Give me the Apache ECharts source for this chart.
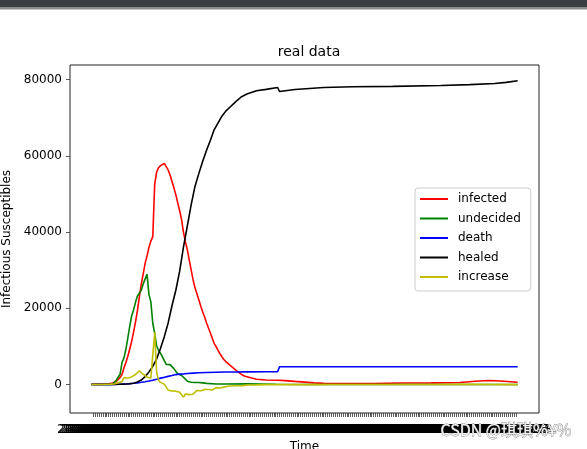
<!DOCTYPE html>
<html>
<head>
<meta charset="utf-8">
<script src="https://cdn.jsdelivr.net/npm/echarts@6/dist/echarts.min.js"></script>
<style>
  html, body { margin: 0; padding: 0; background: #fff; }
  #chart { width: 587px; height: 449px; }
</style>
</head>
<body>
<div id="chart"></div>
<script>
// day 0 is 2020-01-10, one tick per day up to 2020-08-19
const startDay = Date.UTC(2020, 0, 10);
const dayCount = 223;
const xDates = [];
for (let i = 0; i < dayCount; i++) {
    xDates.push(new Date(startDay + i * 86400000).toISOString().slice(0, 10));
}
const yTicks = [0, 20000, 40000, 60000, 80000];
const legendNames = ['infected', 'undecided', 'death', 'healed', 'increase'];

// [MM-DD, value]
const infected = [
    ['01-10', 41], ['01-15', 36], ['01-17', 45], ['01-18', 104], ['01-19', 180], ['01-20', 260],
    ['01-21', 403], ['01-22', 526], ['01-23', 771], ['01-24', 1208], ['01-25', 1870], ['01-26', 2613],
    ['01-27', 4349], ['01-28', 5739], ['01-29', 7417], ['01-30', 9308], ['01-31', 11289],
    ['02-01', 13748], ['02-02', 16369], ['02-03', 19381], ['02-04', 22942], ['02-05', 26302],
    ['02-06', 28985], ['02-07', 31774], ['02-08', 33738], ['02-09', 35982], ['02-10', 37626],
    ['02-11', 38800], ['02-12', 52526], ['02-13', 55748], ['02-14', 56873], ['02-15', 57416],
    ['02-16', 57934], ['02-17', 58016], ['02-18', 57805], ['02-19', 56303], ['02-20', 54965],
    ['02-21', 53284], ['02-22', 51606], ['02-23', 49824], ['02-24', 47672], ['02-25', 45604],
    ['02-26', 43258], ['02-27', 39919], ['02-28', 37414], ['02-29', 35329], ['03-01', 32652],
    ['03-02', 30004], ['03-03', 27433], ['03-04', 25352], ['03-05', 23784], ['03-06', 22177],
    ['03-07', 20533], ['03-08', 19016], ['03-09', 17721], ['03-10', 16145], ['03-11', 14831],
    ['03-12', 13526], ['03-13', 12094], ['03-14', 10734], ['03-15', 9898], ['03-16', 8976],
    ['03-17', 8056], ['03-18', 7263], ['03-19', 6569], ['03-20', 6013], ['03-21', 5549],
    ['03-22', 5120], ['03-23', 4735], ['03-24', 4287], ['03-25', 3947], ['03-26', 3460],
    ['03-27', 3128], ['03-28', 2691], ['03-29', 2396], ['03-30', 2161], ['03-31', 2004],
    ['04-05', 1376], ['04-10', 1156], ['04-16', 1107], ['04-17', 1050], ['04-20', 1000],
    ['04-25', 800], ['04-30', 620], ['05-05', 420], ['05-10', 280], ['05-15', 230], ['05-25', 240],
    ['06-05', 260], ['06-20', 380], ['07-05', 420], ['07-20', 500], ['07-28', 850], ['08-04', 1050],
    ['08-10', 900], ['08-19', 600]
];

const undecided = [
    ['01-10', 0], ['01-19', 0], ['01-20', 54], ['01-21', 37], ['01-22', 393], ['01-23', 1072],
    ['01-24', 1965], ['01-25', 2684], ['01-26', 5794], ['01-27', 6973], ['01-28', 9239],
    ['01-29', 12167], ['01-30', 15238], ['01-31', 17988], ['02-01', 19544], ['02-02', 21558],
    ['02-03', 23214], ['02-04', 23260], ['02-05', 24702], ['02-06', 26359], ['02-07', 27657],
    ['02-08', 28942], ['02-09', 23589], ['02-10', 21675], ['02-11', 16067], ['02-12', 13435],
    ['02-13', 10109], ['02-14', 8969], ['02-15', 8228], ['02-16', 7264], ['02-17', 6242],
    ['02-18', 5248], ['02-19', 4922], ['02-20', 5206], ['02-21', 5365], ['02-22', 4148],
    ['02-23', 3434], ['02-24', 2824], ['02-25', 2491], ['02-26', 2358], ['02-27', 2308],
    ['02-28', 1418], ['02-29', 851], ['03-01', 715], ['03-02', 587], ['03-03', 520], ['03-04', 522],
    ['03-05', 482], ['03-06', 502], ['03-07', 458], ['03-08', 421], ['03-09', 349], ['03-10', 285],
    ['03-15', 134], ['03-20', 104], ['03-31', 172], ['04-15', 60], ['05-01', 10], ['06-01', 3],
    ['07-01', 5], ['08-19', 5]
];

const death = [
    ['01-10', 1], ['01-17', 2], ['01-19', 3], ['01-20', 6], ['01-22', 17], ['01-24', 41],
    ['01-26', 80], ['01-28', 132], ['01-30', 213], ['02-01', 304], ['02-03', 425], ['02-05', 563],
    ['02-07', 722], ['02-09', 908], ['02-11', 1113], ['02-13', 1380], ['02-15', 1665],
    ['02-17', 1868], ['02-19', 2118], ['02-21', 2345], ['02-23', 2592], ['02-25', 2715],
    ['02-27', 2788], ['02-29', 2870], ['03-03', 2981], ['03-06', 3070], ['03-10', 3158],
    ['03-15', 3213], ['03-20', 3255], ['03-25', 3287], ['03-31', 3312], ['04-10', 3336],
    ['04-16', 3342], ['04-17', 4632], ['05-01', 4633], ['08-19', 4634]
];

const healed = [
    ['01-10', 0], ['01-20', 25], ['01-22', 28], ['01-24', 38], ['01-26', 51], ['01-28', 103],
    ['01-30', 171], ['02-01', 328], ['02-03', 632], ['02-05', 1153], ['02-07', 2050],
    ['02-09', 3281], ['02-11', 4740], ['02-13', 6723], ['02-15', 9419], ['02-17', 12552],
    ['02-19', 16155], ['02-21', 20659], ['02-23', 24734], ['02-25', 29745], ['02-27', 36117],
    ['02-29', 41625], ['03-02', 47204], ['03-04', 52045], ['03-06', 55404], ['03-08', 58600],
    ['03-10', 61475], ['03-12', 64111], ['03-14', 66911], ['03-16', 68679], ['03-18', 70420],
    ['03-20', 71740], ['03-22', 72703], ['03-24', 73650], ['03-26', 74588], ['03-28', 75448],
    ['03-31', 76238], ['04-05', 77078], ['04-10', 77455], ['04-16', 77950], ['04-17', 76900],
    ['04-25', 77400], ['05-10', 77950], ['05-25', 78150], ['06-15', 78250], ['07-10', 78450],
    ['07-25', 78700], ['08-07', 79000], ['08-13', 79300], ['08-19', 79700]
];

const increase = [
    ['01-10', 0], ['01-16', 0], ['01-17', 9], ['01-18', 59], ['01-19', 76], ['01-20', 80],
    ['01-21', 143], ['01-22', 123], ['01-23', 245], ['01-24', 437], ['01-25', 662], ['01-26', 743],
    ['01-27', 1736], ['01-28', 1390], ['01-29', 1678], ['01-30', 1891], ['01-31', 1981],
    ['02-01', 2459], ['02-02', 2621], ['02-03', 3012], ['02-04', 3561], ['02-05', 3360],
    ['02-06', 2683], ['02-07', 2789], ['02-08', 1964], ['02-09', 2244], ['02-10', 1644],
    ['02-11', 1174], ['02-12', 13726], ['02-13', 3222], ['02-14', 1125], ['02-15', 543],
    ['02-16', 518], ['02-17', 82], ['02-18', -211], ['02-19', -1502], ['02-20', -1338],
    ['02-21', -1681], ['02-22', -1678], ['02-23', -1782], ['02-24', -2152], ['02-25', -2068],
    ['02-26', -2346], ['02-27', -3339], ['02-28', -2505], ['02-29', -2085], ['03-01', -2677],
    ['03-02', -2648], ['03-03', -2571], ['03-04', -2081], ['03-05', -1568], ['03-06', -1607],
    ['03-07', -1644], ['03-08', -1517], ['03-09', -1295], ['03-10', -1576], ['03-11', -1314],
    ['03-12', -1305], ['03-13', -1432], ['03-14', -1360], ['03-15', -836], ['03-16', -922],
    ['03-17', -920], ['03-18', -793], ['03-19', -694], ['03-20', -556], ['03-21', -464],
    ['03-22', -429], ['03-23', -385], ['03-24', -448], ['03-25', -340], ['03-26', -487],
    ['03-27', -332], ['03-28', -437], ['03-29', -295], ['03-30', -235], ['03-31', -157],
    ['04-05', -120], ['04-10', -30], ['04-16', -10], ['04-17', -57], ['04-25', -40], ['05-05', -30],
    ['05-15', -5], ['06-01', 0], ['06-20', 10], ['07-10', 0], ['07-25', 40], ['08-05', 10],
    ['08-19', -30]
];

const colors = ['#ff0000', '#008000', '#0000ff', '#000000', '#bfbf00'];

function dayIndex(md) {
    const [m, d] = md.split('-').map(Number);
    return Math.round((Date.UTC(2020, m - 1, d) - startDay) / 86400000);
}

function toPoints(arr) {
    return arr.map(([md, v]) => [dayIndex(md), v]);
}

const allDays = xDates.map((_, i) => i);
const font = 'DejaVu Sans';

const chart = echarts.init(document.getElementById('chart'), null, { renderer: 'canvas' });

chart.setOption({
    animation: false,
    backgroundColor: '#fff',
    color: colors,
    title: {
        text: 'real data',
        left: 304,
        top: 40,
        textAlign: 'center',
        textStyle: { fontFamily: font, fontSize: 14, fontWeight: 'normal', color: '#000' }
    },
    grid: {
        left: 70, right: 48, top: 65, bottom: 36,
        show: true, borderColor: '#222', borderWidth: 1,
        outerBoundsMode: 'none'
    },
    legend: {
        orient: 'vertical',
        left: 415,
        top: 188,
        data: legendNames,
        icon: 'rect',
        itemWidth: 28,
        itemHeight: 2,
        itemGap: 5.5,
        padding: [4, 10, 7, 5],
        backgroundColor: 'rgba(255,255,255,0.85)',
        borderColor: '#cccccc',
        borderWidth: 1,
        borderRadius: 3,
        textStyle: { fontFamily: font, fontSize: 12, color: '#000', lineHeight: 14, padding: [0, 0, 0, 5] }
    },
    xAxis: {
        type: 'value',
        min: -11.1,
        max: 233.1,
        name: 'Time',
        nameLocation: 'middle',
        nameGap: 28,
        nameTextStyle: { fontFamily: font, fontSize: 12, color: '#000' },
        axisLine: { show: false, onZero: false },
        splitLine: { show: false },
        axisTick: {
            show: true, length: 4, inside: false,
            lineStyle: { color: '#333', width: 0.8 },
            customValues: allDays
        },
        axisLabel: {
            show: true,
            margin: 10,
            fontFamily: font,
            fontSize: 12.5,
            color: '#000',
            hideOverlap: false,
            customValues: allDays,
            formatter: v => xDates[v] || ''
        }
    },
    yAxis: {
        type: 'value',
        min: -7490,
        max: 83850,
        name: 'Infectious Susceptibles',
        nameLocation: 'middle',
        nameGap: 55,
        nameRotate: 90,
        nameTextStyle: { fontFamily: font, fontSize: 12, color: '#000' },
        axisLine: { show: false, onZero: false },
        splitLine: { show: false },
        axisTick: {
            show: true, length: 4,
            lineStyle: { color: '#333', width: 0.8 },
            customValues: yTicks
        },
        axisLabel: {
            margin: 8,
            fontFamily: font,
            fontSize: 12,
            color: '#000',
            customValues: yTicks,
            formatter: v => String(v)
        }
    },
    series: [infected, undecided, death, healed, increase].map((arr, i) => ({
        name: legendNames[i],
        type: 'line',
        data: toPoints(arr),
        showSymbol: false,
        smooth: false,
        lineStyle: { width: 1.6, color: colors[i] },
        itemStyle: { color: colors[i] }
    })),
    graphic: [
        { type: 'rect', shape: { x: 0, y: 0, width: 587, height: 7 }, style: { fill: '#3a3d41' }, silent: true },
        { type: 'rect', shape: { x: 0, y: 7, width: 587, height: 2.5 }, style: { fill: '#8c8c8c' }, silent: true },
        {
            type: 'text', left: 440, top: 422, silent: true, z: 100,
            style: {
                text: 'CSDN @琪琪%¥%',
                font: '16px "Noto Sans CJK SC", "DejaVu Sans"',
                fill: '#f2f2f2',
                stroke: '#8a8a8a',
                lineWidth: 0.8
            }
        }
    ]
});
</script>
</body>
</html>
